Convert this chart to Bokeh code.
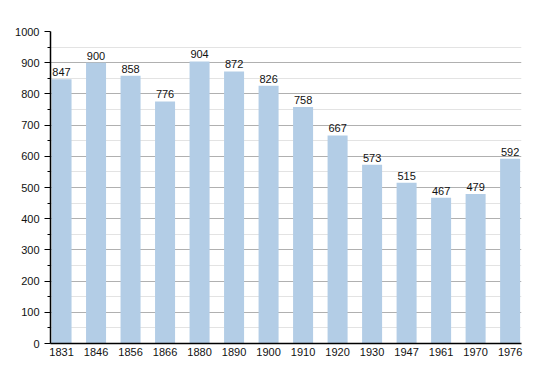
from bokeh.plotting import figure
from bokeh.models import ColumnDataSource, Range1d, FixedTicker, LabelSet
from bokeh.core.properties import value
from bokeh.embed import file_html
from bokeh.resources import INLINE

years = ["1831", "1846", "1856", "1866", "1880", "1890", "1900", "1910",
         "1920", "1930", "1947", "1961", "1970", "1976"]
population = [847, 900, 858, 776, 904, 872, 826, 758, 667, 573, 515, 467, 479, 592]
y_ticks = list(range(0, 1001, 100))

xs = list(range(len(years)))
src = ColumnDataSource(dict(x=xs, top=population, label=[str(v) for v in population]))

p = figure(width=542, height=365, output_backend="svg", toolbar_location=None,
           x_range=Range1d(-0.32, len(years) - 1 + 0.33), y_range=Range1d(0, 1000),
           min_border_left=50, min_border_right=21, min_border_top=31, min_border_bottom=22)
p.outline_line_color = None
p.background_fill_color = "white"

p.vbar(x="x", top="top", width=0.58, bottom=0, source=src,
       fill_color="#b3cde6", line_color=None)

labels = LabelSet(x="x", y="top", text="label", source=src, text_align="center",
                  text_baseline="bottom", y_offset=3, text_font=value("Liberation Sans"),
                  text_font_size="11px", text_color="#111111")
p.add_layout(labels)

# x axis
p.xaxis.ticker = FixedTicker(ticks=xs)
p.xaxis.major_label_overrides = {i: y for i, y in enumerate(years)}
p.xaxis.major_tick_out = 0
p.xaxis.major_tick_in = 0
p.xaxis.minor_tick_out = 0
p.xaxis.axis_line_color = "black"
p.xaxis.axis_line_width = 1.5
p.xaxis.major_label_standoff = 4
p.xgrid.grid_line_color = None

# y axis
p.yaxis.ticker = FixedTicker(ticks=y_ticks, minor_ticks=list(range(50, 1000, 100)))
p.yaxis.major_tick_out = 6
p.yaxis.major_tick_in = 0
p.yaxis.minor_tick_out = 3
p.yaxis.minor_tick_in = 0
p.yaxis.axis_line_color = "black"
p.yaxis.axis_line_width = 1.5
p.yaxis.major_label_standoff = 5
p.ygrid.grid_line_color = "#b0b0b0"
p.ygrid.minor_grid_line_color = "#e3e3e3"

for ax in (p.xaxis, p.yaxis):
    ax.major_label_text_font = "Liberation Sans"
    ax.major_label_text_font_size = "11px"
    ax.major_label_text_color = "#111111"

open("out.html", "w").write(file_html(p, INLINE))
